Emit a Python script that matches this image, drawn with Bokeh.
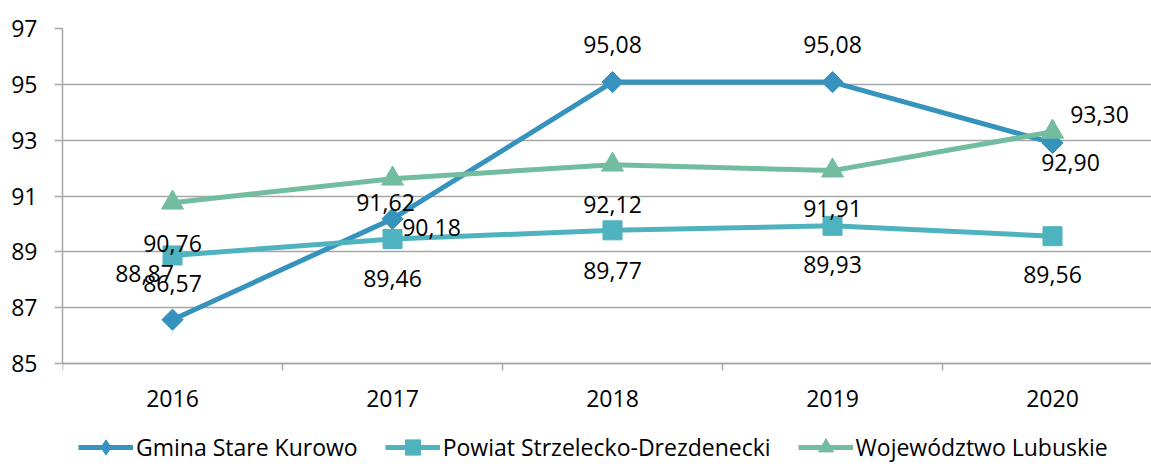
from bokeh.plotting import figure
from bokeh.models import ColumnDataSource, Range1d, FixedTicker, Legend, LegendItem
from bokeh.core.properties import value
from bokeh.embed import file_html
from bokeh.resources import INLINE
import math

years = ["2016", "2017", "2018", "2019", "2020"]
gmina = [86.57, 90.18, 95.08, 95.08, 92.90]
powiat = [88.87, 89.46, 89.77, 89.93, 89.56]
woj = [90.76, 91.62, 92.12, 91.91, 93.30]
series_names = ["Gmina Stare Kurowo", "Powiat Strzelecko-Drezdenecki", "Województwo Lubuskie"]
y_ticks = [85, 87, 89, 91, 93, 95, 97]

# label offsets in screen px (dx, dy), dy positive = down
gmina_off = [(0, -36), (39, 9), (0, -38), (0, -38), (18, 20)]
powiat_off = [(-28, 18), (0, 40), (0, 40), (0, 39), (0, 38)]
woj_off = [(0, 41), (-7, 24), (0, 40), (0, 38), (47, -17)]

colors = ["#3593BD", "#4FB3BF", "#72BCA0"]
FONT = "Open Sans"
FS = "23px"

FW, FH = 1089, 439
PX_PER_UNIT = 335 / 12.0
y_start = 97 - FH / PX_PER_UNIT
p = figure(frame_width=FW, frame_height=FH, output_backend="svg", toolbar_location=None,
           x_range=Range1d(-0.5, -0.5 + FW / 220.0), y_range=Range1d(y_start, 97),
           min_border_left=62, min_border_right=0, min_border_top=28, min_border_bottom=0)
p.outline_line_color = None
p.xgrid.visible = False
p.ygrid.grid_line_color = "#a6a6a6"
p.ygrid.grid_line_width = 1.5
p.ygrid.ticker = FixedTicker(ticks=y_ticks)

xs = list(range(len(years)))

p.yaxis.ticker = FixedTicker(ticks=y_ticks)
p.yaxis.bounds = (85, 97)
p.yaxis.axis_line_color = "#a6a6a6"
p.yaxis.axis_line_width = 1.5
p.yaxis.major_tick_line_color = "#a6a6a6"
p.yaxis.major_tick_line_width = 1.5
p.yaxis.major_tick_in = 0
p.yaxis.major_tick_out = 8
p.yaxis.minor_tick_line_color = None
p.yaxis.major_label_standoff = 17
p.yaxis.major_label_text_font = FONT
p.yaxis.major_label_text_font_size = FS
p.yaxis.major_label_text_color = "#000000"

p.xaxis.fixed_location = 85
p.xaxis.ticker = FixedTicker(ticks=xs, minor_ticks=[i - 0.5 for i in range(len(years) + 1)])
p.xaxis.major_label_overrides = {i: y for i, y in enumerate(years)}
p.xaxis.axis_line_color = "#a6a6a6"
p.xaxis.axis_line_width = 1.5
p.xaxis.major_tick_line_color = None
p.xaxis.major_tick_in = 0
p.xaxis.major_tick_out = 0
p.xaxis.minor_tick_line_color = "#a6a6a6"
p.xaxis.minor_tick_line_width = 1.5
p.xaxis.minor_tick_in = 0
p.xaxis.minor_tick_out = 7
p.xaxis.major_label_standoff = 19
p.xaxis.major_label_text_font = FONT
p.xaxis.major_label_text_font_size = FS
p.xaxis.major_label_text_color = "#000000"

items = []
markers = [("square", 15, math.pi / 4), ("square", 19, 0), ("triangle", 22, 0)]
legend_markers = ["diamond", "square", "triangle"]
for vals, offs, col, name, (mk, sz, ang), lmk in zip([gmina, powiat, woj], [gmina_off, powiat_off, woj_off],
                                                    colors, series_names, markers, legend_markers):
    src = ColumnDataSource(dict(
        x=xs, y=vals,
        t=[f"{v:.2f}".replace(".", ",") for v in vals],
        dx=[o[0] for o in offs], dy=[o[1] for o in offs],
    ))
    lr = p.line("x", "y", source=src, line_color=col, line_width=5)
    sr = p.scatter("x", "y", source=src, marker=mk, size=sz, angle=ang,
                   fill_color=col, line_color=col)
    # legend-only marker (not drawn in the plot area)
    leg_src = ColumnDataSource(dict(x=[float("nan")], y=[float("nan")]))
    lsr = p.scatter("x", "y", source=leg_src, marker=lmk, size=10,
                    fill_color=col, line_color=col)
    items.append((name, lr, lsr, src))

for name, lr, sr, src in items:
    p.text("x", "y", text="t", source=src, x_offset="dx", y_offset="dy",
           text_align="center", text_baseline="middle",
           text_font=value(FONT), text_font_size=FS, text_color="#000000")

legend = Legend(items=[LegendItem(label=n, renderers=[lr, sr]) for n, lr, sr, _ in items],
                orientation="horizontal", location=(16, 1),
                glyph_width=55, glyph_height=38, label_standoff=3, spacing=27,
                padding=0, margin=0, border_line_color=None, background_fill_alpha=0,
                label_text_font=FONT, label_text_font_size=FS, label_text_color="#000000")
p.add_layout(legend, "center")

open("out.html", "w").write(file_html(p, INLINE))
